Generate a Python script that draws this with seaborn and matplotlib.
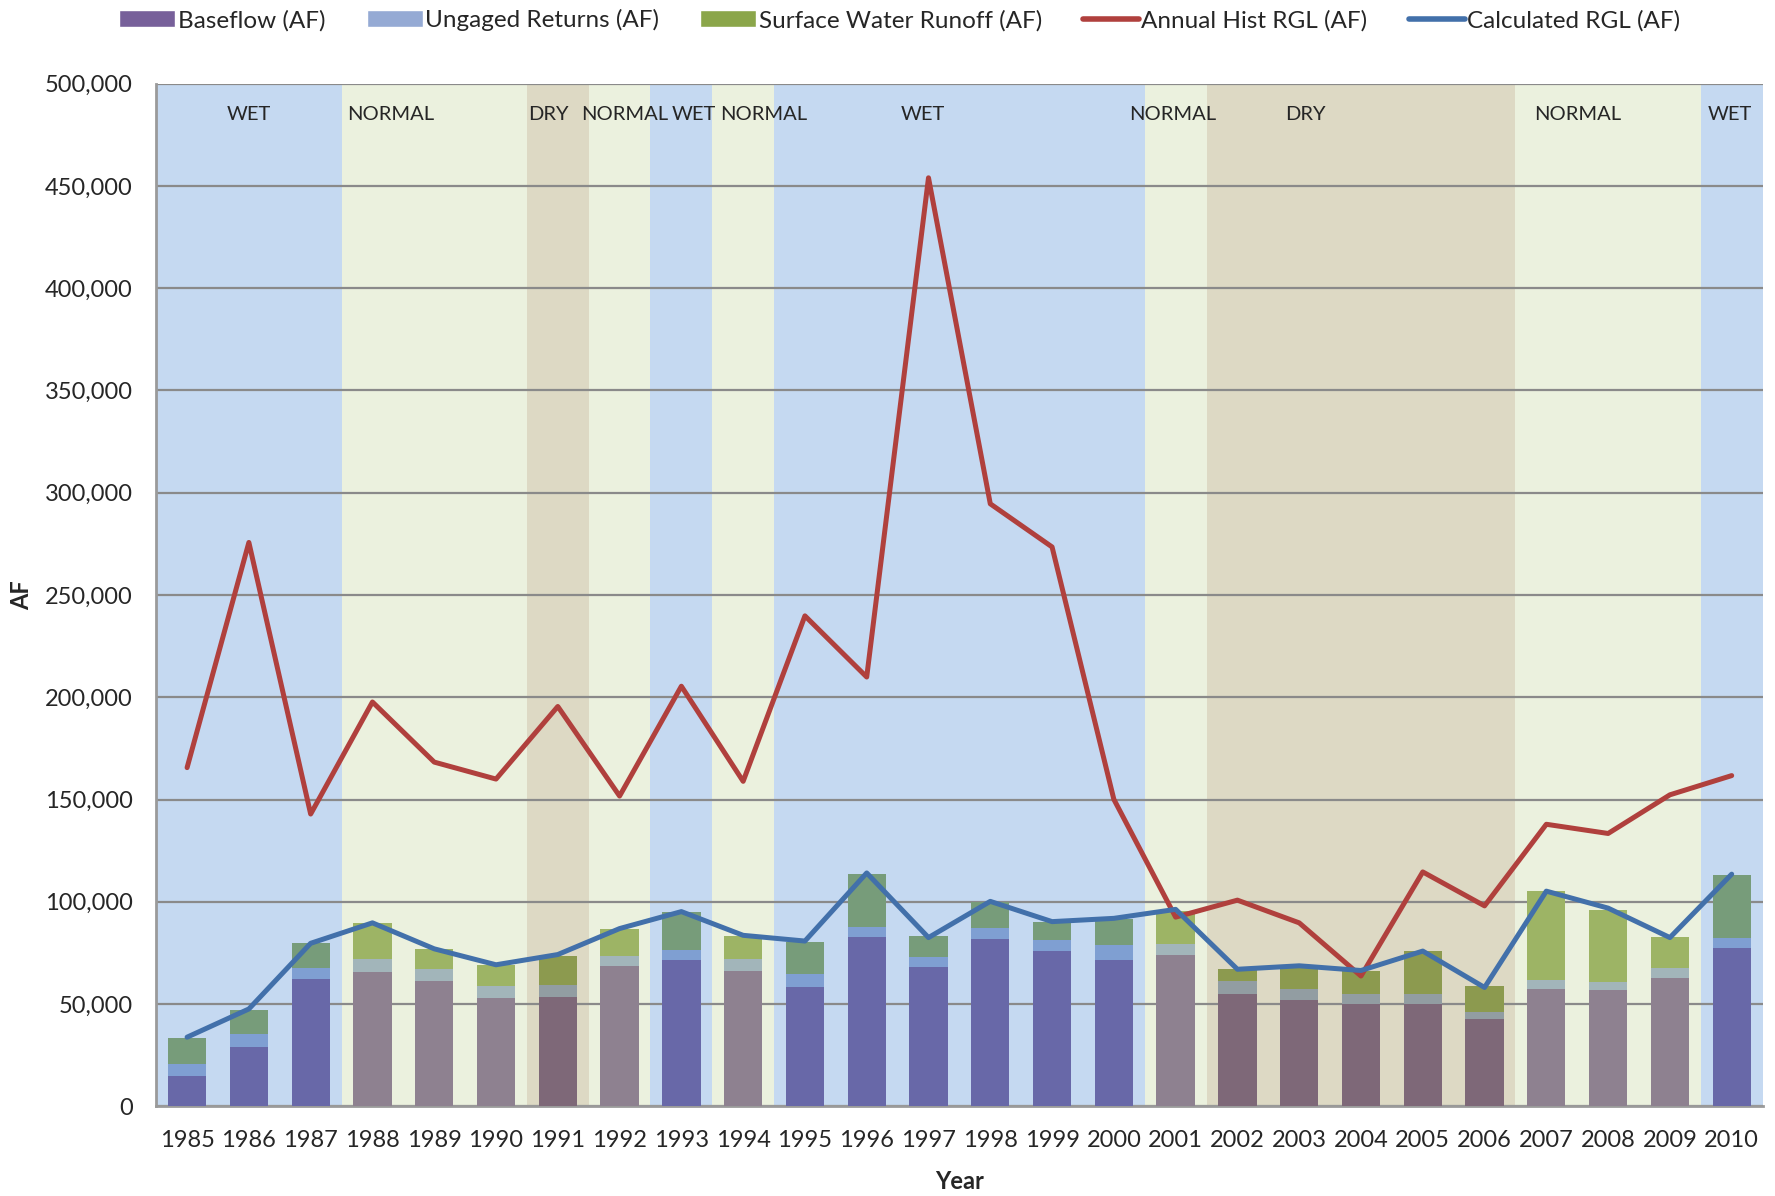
import numpy as np
import pandas as pd
import seaborn as sns
import matplotlib.pyplot as plt
from matplotlib.patches import Patch
from matplotlib.lines import Line2D
from matplotlib.ticker import FuncFormatter, MultipleLocator

# data
years = list(range(1985, 2011))
year_type = (["WET"] * 3 + ["NORMAL"] * 3 + ["DRY"] + ["NORMAL"] + ["WET"] + ["NORMAL"]
             + ["WET"] * 6 + ["NORMAL"] + ["DRY"] * 5 + ["NORMAL"] * 3 + ["WET"])
baseflow = [14700, 29000, 62300, 65500, 61100, 52800, 53500, 68500, 71400, 66000,
            58400, 82600, 68100, 81700, 76000, 71400, 73800, 54800, 52100, 50200,
            49800, 42500, 57200, 56900, 62600, 77300]
ungaged = [6200, 6200, 5500, 6500, 6200, 6200, 6000, 5000, 5200, 5900,
           6500, 5300, 5100, 5700, 5500, 7500, 5600, 6500, 5300, 4500,
           5300, 3400, 4700, 4000, 5200, 4900]
runoff = [12500, 12100, 11900, 17500, 9500, 10300, 14200, 13100, 18600, 11200,
          15300, 25500, 9900, 12500, 8600, 12500, 16100, 6000, 11100, 11300,
          20600, 12800, 43300, 35300, 14900, 31000]
hist_rgl = [165600, 275700, 142900, 197700, 168300, 160000, 195500, 151700, 205400, 158900,
            239800, 209900, 454000, 294600, 273500, 150100, 92500, 100800, 89700, 63700,
            114600, 98000, 137900, 133400, 152300, 161700]
calc_rgl = [33800, 47600, 79700, 89700, 77000, 69200, 74200, 86900, 95200, 83600,
            80800, 114100, 82500, 100200, 90300, 91900, 96300, 67000, 68700, 66400,
            75900, 58100, 105200, 96900, 82500, 113500]

# band label text and where it sits (year units)
band_labels = ["WET", "NORMAL", "DRY", "NORMAL", "WET", "NORMAL", "WET", "NORMAL", "DRY", "NORMAL", "WET"]
band_label_x = [1986, 1988.3, 1990.85, 1992.08, 1993.2, 1994.33, 1996.9, 2000.95, 2003.1, 2007.5, 2009.97]

# colours (bars look different on each background)
band_col = {"WET": "#C5D9F1", "NORMAL": "#EBF1DE", "DRY": "#DDD9C4"}
base_col = {"WET": "#6868A8", "NORMAL": "#8E8190", "DRY": "#7E6878"}
ung_col = {"WET": "#7F9FD2", "NORMAL": "#A2B5BA", "DRY": "#929DA2"}
run_col = {"WET": "#779C7A", "NORMAL": "#9DB465", "DRY": "#8C9A4F"}

sns.set_style("white")
plt.rcParams["font.family"] = ["Lato", "DejaVu Sans"]

df = pd.DataFrame({"year": [str(y) for y in years], "type": year_type,
                   "baseflow": baseflow, "ungaged": ungaged, "runoff": runoff})
df["mid"] = df["baseflow"] + df["ungaged"]
df["total"] = df["mid"] + df["runoff"]

fig, ax = plt.subplots(figsize=(17.75, 11.96), dpi=100)
fig.subplots_adjust(left=0.088, right=0.993, top=0.93, bottom=0.075)

# background bands
for i, t in enumerate(year_type):
    ax.axvspan(i - 0.5, i + 0.5, color=band_col[t], lw=0, zorder=0)

ax.yaxis.grid(True, color="#8A8A8A", lw=1.6, zorder=1)
ax.set_axisbelow(True)

# stacked bars, drawn tallest first
for col, cmap in [("total", run_col), ("mid", ung_col), ("baseflow", base_col)]:
    sns.barplot(data=df, x="year", y=col, hue="year",
                palette=[cmap[t] for t in year_type], legend=False,
                width=0.62, saturation=1, linewidth=0, ax=ax, zorder=3)

xs = np.arange(len(years))
sns.lineplot(x=xs, y=hist_rgl, color="#B0403D", linewidth=3.6, ax=ax, zorder=5)
sns.lineplot(x=xs, y=calc_rgl, color="#4270AA", linewidth=3.6, ax=ax, zorder=6)

for lab, lx in zip(band_labels, band_label_x):
    ax.text(lx - years[0], 485000, lab, ha="center", va="center", fontsize=14.5, zorder=7)

ax.set_xlim(-0.5, len(years) - 0.5)
ax.set_ylim(0, 500000)
ax.yaxis.set_major_locator(MultipleLocator(50000))
ax.yaxis.set_major_formatter(FuncFormatter(lambda v, _: f"{int(v):,}"))
ax.set_xticks(xs)
ax.set_xticklabels([str(y) for y in years])
ax.tick_params(axis="both", labelsize=17, length=0)
ax.tick_params(axis="x", pad=17)
ax.tick_params(axis="y", pad=17)
ax.set_xlabel("Year", fontsize=17, fontweight="bold", labelpad=14)
ax.set_ylabel("AF", fontsize=17, fontweight="bold", labelpad=8)

for s in ["top", "right"]:
    ax.spines[s].set_visible(False)
for s in ["left", "bottom"]:
    ax.spines[s].set_color("#9A9A9A")
    ax.spines[s].set_linewidth(2)

handles = [Patch(facecolor="#77609A"), Patch(facecolor="#95AAD4"), Patch(facecolor="#8BA64A"),
           Line2D([], [], color="#B0403D", lw=4), Line2D([], [], color="#4270AA", lw=4)]
labels = ["Baseflow (AF)", "Ungaged Returns (AF)", "Surface Water Runoff (AF)",
          "Annual Hist RGL (AF)", "Calculated RGL (AF)"]
fig.legend(handles, labels, loc="center", bbox_to_anchor=(0.507, 0.983), ncol=5,
           frameon=False, fontsize=17.5, handlelength=2.3, handletextpad=0.1,
           columnspacing=1.7)

fig.savefig("out.png", dpi=100)
